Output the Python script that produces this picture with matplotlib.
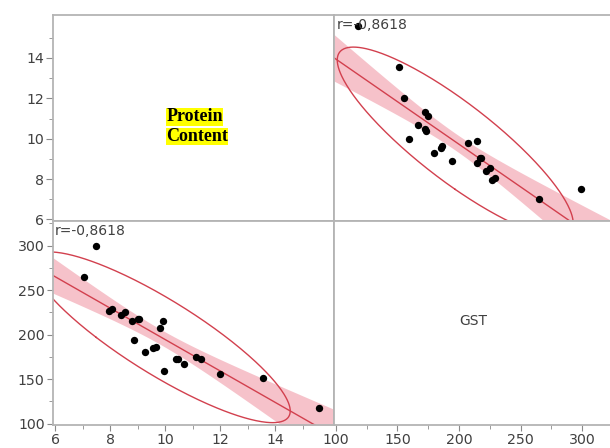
import numpy as np
import matplotlib
matplotlib.use("Agg")
import matplotlib.pyplot as plt
from matplotlib.ticker import FixedLocator

# Data: Protein Content vs GST
protein = [7.5, 7.03, 8.05, 7.95, 8.4, 8.55, 8.8, 9.02, 9.06, 8.88, 9.9, 9.8,
           9.28, 9.55, 9.65, 9.96, 10.38, 10.47, 10.68, 11.1, 11.3, 12.0, 13.55, 15.6]
gst = [299, 265, 229, 227, 222, 225, 215, 218, 217, 194, 215, 207,
       180, 185, 186, 159, 173, 172.5, 167, 175, 172, 155.5, 151, 117.5]
pc_ticks = [6, 8, 10, 12, 14]
gst_ticks = [100, 150, 200, 250, 300]
r_label = "r=-0,8618"
names = ["Protein\nContent", "GST"]

pc = np.array(protein)
g = np.array(gst)

W, H = 610, 448
fig = plt.figure(figsize=(W / 100, H / 100), dpi=100)

def fr(x0, y0, x1, y1):
    return [x0 / W, 1 - y1 / H, (x1 - x0) / W, (y1 - y0) / H]

ax_tl = fig.add_axes(fr(53, 15, 334, 221))
ax_tr = fig.add_axes(fr(334, 15, 616, 221))
ax_bl = fig.add_axes(fr(53, 221, 334, 425))
ax_br = fig.add_axes(fr(334, 221, 616, 425))

pc_lim = (5.92, 16.13)
g_lim = (98.4, 327.6)

spine_c = "#b4b4b4"
tick_c = "#8a8a8a"
lab_c = "#404040"
band_c = "#f5bcc5"
line_c = "#d2404e"

for ax in (ax_tl, ax_tr, ax_bl, ax_br):
    for s in ax.spines.values():
        s.set_color(spine_c)
        s.set_linewidth(1.3)
    ax.tick_params(which="both", left=False, bottom=False, labelleft=False,
                   labelbottom=False, colors=tick_c, labelcolor=lab_c,
                   labelsize=10.2, pad=1.5)

def panel(ax, x, y, xlim, ylim):
    ax.set_xlim(*xlim)
    ax.set_ylim(*ylim)
    n = len(x)
    mx, my = x.mean(), y.mean()
    sxx = ((x - mx) ** 2).sum()
    b = ((x - mx) * (y - my)).sum() / sxx
    a = my - b * mx
    resid = y - (a + b * x)
    s = np.sqrt((resid ** 2).sum() / (n - 2))
    xs = np.linspace(xlim[0], xlim[1], 300)
    ys = a + b * xs
    se = s * np.sqrt(1 / n + (xs - mx) ** 2 / sxx)
    t = 2.074
    ax.fill_between(xs, ys - t * se, ys + t * se, color=band_c, alpha=0.9,
                    lw=0, zorder=1)
    ax.plot(xs, ys, color=line_c, lw=1.0, zorder=2)
    # density ellipse
    cov = np.cov(np.vstack([x, y]))
    vals, vecs = np.linalg.eigh(cov)
    k = 2.4477
    th = np.linspace(0, 2 * np.pi, 400)
    circ = np.vstack([np.cos(th), np.sin(th)])
    pts = vecs @ (np.sqrt(vals)[:, None] * k * circ)
    ax.plot(pts[0] + mx, pts[1] + my, color=line_c, lw=1.0, zorder=2)
    ax.scatter(x, y, s=28, color="black", zorder=3, linewidths=0)

panel(ax_bl, pc, g, pc_lim, g_lim)
panel(ax_tr, g, pc, g_lim, pc_lim)

for ax in (ax_tl, ax_br):
    ax.set_xlim(0, 1)
    ax.set_ylim(0, 1)

minor_pc = [v + 1 for v in pc_ticks]
minor_g = [v + 25 for v in gst_ticks]

# Axis ticks
ax_tl.set_ylim(*pc_lim)
ax_tl.yaxis.set_major_locator(FixedLocator(pc_ticks))
ax_tl.yaxis.set_minor_locator(FixedLocator(minor_pc))
ax_tl.tick_params(which="both", left=True, labelleft=True)
ax_tl.tick_params(which="major", length=5)
ax_tl.tick_params(which="minor", length=3)

ax_bl.yaxis.set_major_locator(FixedLocator(gst_ticks))
ax_bl.yaxis.set_minor_locator(FixedLocator(minor_g))
ax_bl.xaxis.set_major_locator(FixedLocator(pc_ticks))
ax_bl.xaxis.set_minor_locator(FixedLocator(minor_pc))
ax_bl.tick_params(which="both", left=True, labelleft=True, bottom=True,
                  labelbottom=True)
ax_bl.tick_params(which="major", length=4.5)
ax_bl.tick_params(which="minor", length=3)

ax_br.set_xlim(*g_lim)
ax_br.xaxis.set_major_locator(FixedLocator(gst_ticks))
ax_br.xaxis.set_minor_locator(FixedLocator(minor_g))
ax_br.tick_params(which="both", bottom=True, labelbottom=True)
ax_br.tick_params(which="major", length=4.5)
ax_br.tick_params(which="minor", length=3)

# Names
p1, p2 = names[0].split("\n")
kw = dict(family="Liberation Serif", fontweight="bold", fontsize=13,
          color="black", ha="left", va="center", transform=ax_tl.transAxes,
          bbox=dict(facecolor="#ffff00", edgecolor="none", pad=0.3))
ax_tl.text(0.403, 0.505, p1, **kw)
ax_tl.text(0.403, 0.41, p2, **kw)

ax_br.text(0.495, 0.51, names[1], transform=ax_br.transAxes, ha="center",
           va="center", fontsize=10, color=lab_c)

ax_bl.text(0.008, 0.985, r_label, transform=ax_bl.transAxes, ha="left",
           va="top", fontsize=10, color=lab_c, zorder=5)
ax_tr.text(0.008, 0.985, r_label, transform=ax_tr.transAxes, ha="left",
           va="top", fontsize=10, color=lab_c, zorder=5)

fig.savefig("out.png", dpi=100)
